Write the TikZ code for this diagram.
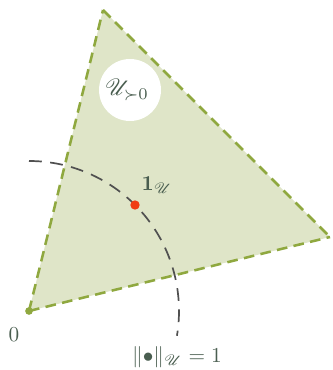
\documentclass[tikz,border=0pt]{standalone}
\usepackage{amsmath,amssymb}
\usepackage{mathrsfs}
\definecolor{conefill}{HTML}{DFE5C8}
\definecolor{coneedge}{HTML}{8FA83F}
\definecolor{txt}{HTML}{4A5E50}
\definecolor{arcc}{HTML}{505050}
\definecolor{reddot}{HTML}{F03C14}
\tikzset{
  edge/.style={draw=coneedge, line width=1.2pt, dash pattern=on 5pt off 3pt},
  lbl/.style={text=txt, inner sep=0pt},
}
\begin{document}
\begin{tikzpicture}[x=0.47pt,y=-0.47pt]
\useasboundingbox (0,0) rectangle (332,370);
\coordinate (O) at (29,311);
\coordinate (A) at (103,10);
\coordinate (B) at (330,237);
\fill[conefill] (O) -- (A) -- (B) -- cycle;
\draw[edge] (O) -- (A);
\draw[edge] (O) -- (B);
\draw[edge] (A) -- (B);
\node[circle, fill=white, minimum size=62*0.47pt, inner sep=0pt] (int) at (130,90) {};
\node[lbl, scale=1.1] (intl) at (127,90) {$\mathscr{U}_{\succ 0}$};
\draw[arcc, line width=0.8pt, dash pattern=on 6pt off 4pt] (29,161) arc[start angle=-90, end angle=9.5, radius=150];
\fill[reddot] (135,205) circle (2.2pt);
\node (one) at (135,205) {};
\node[lbl] (onel) at (157,185) {$\boldsymbol{1}_{\mathscr{U}}$};
\fill[coneedge] (O) circle (1.8pt);
\node[lbl] (zero) at (14,335) {$0$};
\node[lbl] (norm) at (177,357) {$\|\mathord{\bullet}\|_{\mathscr{U}} = 1$};
\end{tikzpicture}
\end{document}
